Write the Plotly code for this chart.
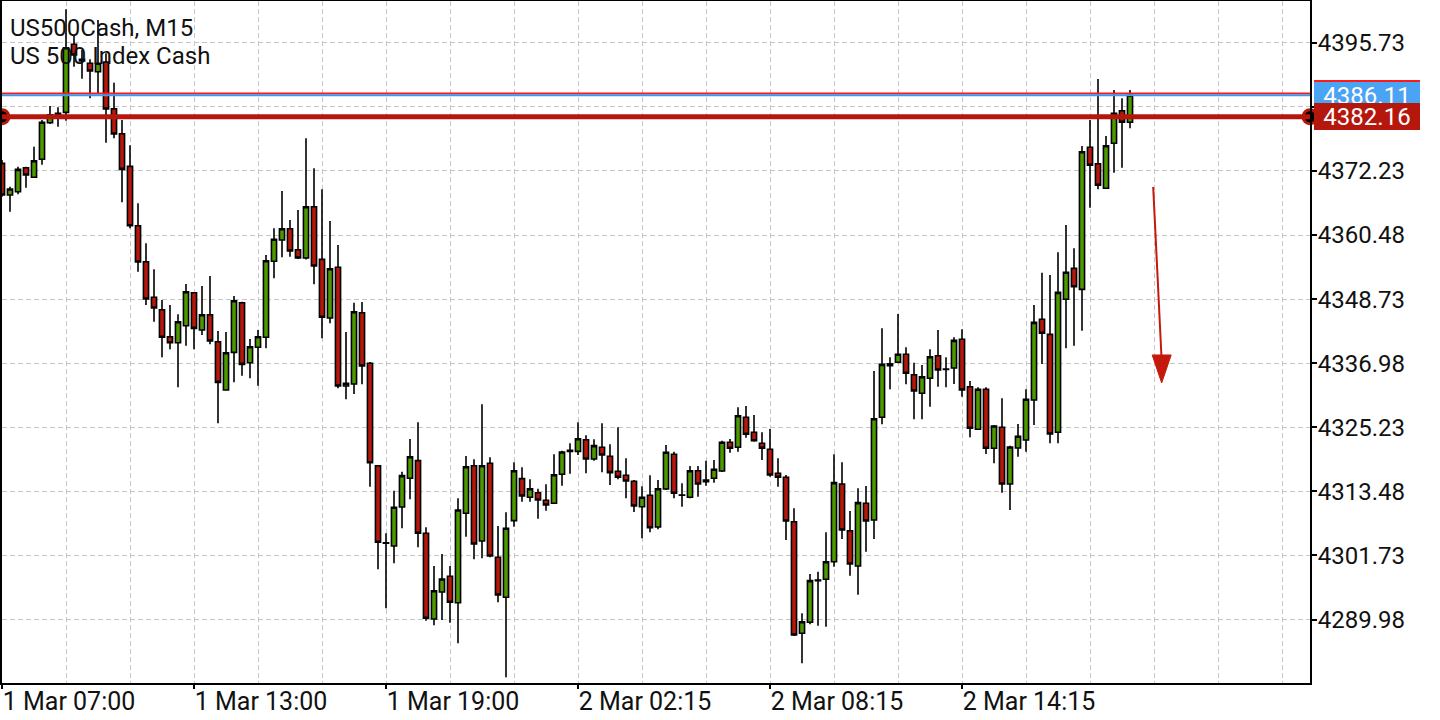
import plotly.graph_objects as go

# ---------------- data (M15 bars) ----------------
OPEN = [4373.62, 4367.81, 4368.42, 4372.82, 4371.06, 4374.36, 4381.07, 4382.17, 4382.97, 4395.44,
        4392.38, 4391.96, 4390.42, 4392.19, 4383.63, 4379.05, 4373.07, 4362.18, 4355.59, 4349.06,
        4346.79, 4341.84, 4340.74, 4343.85, 4349.90, 4343.06, 4345.87, 4340.92, 4332.07, 4338.97,
        4348.07, 4337.07, 4339.89, 4341.73, 4355.66, 4359.56, 4361.63, 4357.79, 4356.26, 4365.67,
        4356.02, 4345.26, 4354.56, 4332.80, 4333.17, 4346.24, 4336.96, 4318.19, 4303.96, 4303.47,
        4310.62, 4315.88, 4319.11, 4305.79, 4290.08, 4295.03, 4297.91, 4293.07, 4309.46, 4318.19,
        4304.38, 4318.63, 4301.40, 4294.06, 4308.11, 4315.81, 4312.39, 4313.24, 4311.84, 4311.29,
        4316.61, 4320.82, 4320.82, 4322.95, 4319.42, 4321.56, 4319.91, 4317.16, 4316.43, 4315.33,
        4310.67, 4312.76, 4306.95, 4313.92, 4320.28, 4312.76, 4312.39, 4317.27, 4315.57, 4315.88,
        4317.22, 4322.48, 4321.56, 4327.06, 4324.31, 4322.29, 4321.19, 4316.79, 4316.06, 4307.92,
        4287.46, 4289.48, 4297.11, 4297.36, 4300.59, 4314.83, 4306.27, 4299.80, 4311.29, 4308.23,
        4327.06, 4336.52, 4337.14, 4338.61, 4334.87, 4331.46, 4334.21, 4338.35, 4335.92, 4336.10,
        4341.36, 4332.67, 4324.86, 4332.19, 4321.38, 4325.23, 4314.83, 4321.43, 4322.90, 4330.23,
        4345.03, 4342.27, 4324.31, 4348.69, 4354.37, 4350.52, 4376.56, 4373.55, 4369.04, 4377.29,
        4383.27, 4381.14]
HIGH = [4374.23, 4369.34, 4373.00, 4373.00, 4376.67, 4381.56, 4384.13, 4383.89, 4401.85, 4397.14,
        4394.39, 4392.69, 4399.89, 4393.79, 4388.40, 4381.56, 4376.92, 4366.29, 4358.96, 4354.19,
        4348.56, 4347.65, 4345.94, 4351.50, 4350.03, 4351.13, 4352.96, 4342.88, 4342.70, 4349.30,
        4348.25, 4341.41, 4343.06, 4356.81, 4361.71, 4368.55, 4363.23, 4365.06, 4378.20, 4372.70,
        4368.86, 4363.05, 4358.65, 4342.70, 4348.07, 4348.20, 4337.20, 4318.32, 4305.79, 4313.60,
        4317.09, 4323.08, 4326.14, 4306.89, 4299.80, 4301.98, 4299.80, 4312.21, 4319.97, 4319.36,
        4329.44, 4319.73, 4307.13, 4309.65, 4318.81, 4317.89, 4315.69, 4313.97, 4314.78, 4320.28,
        4320.94, 4322.29, 4326.14, 4323.76, 4323.02, 4325.96, 4322.11, 4325.23, 4319.55, 4315.57,
        4314.41, 4316.43, 4315.57, 4321.98, 4320.76, 4314.96, 4318.13, 4318.13, 4319.11, 4319.23,
        4322.77, 4323.08, 4328.89, 4329.13, 4327.48, 4324.31, 4324.92, 4319.55, 4316.48, 4310.38,
        4291.13, 4298.33, 4298.76, 4305.98, 4320.28, 4318.81, 4309.88, 4314.04, 4314.47, 4335.55,
        4343.37, 4338.06, 4346.00, 4339.89, 4337.07, 4336.65, 4339.53, 4343.06, 4338.06, 4341.73,
        4343.19, 4333.71, 4332.56, 4332.56, 4325.65, 4330.54, 4321.86, 4325.83, 4332.19, 4347.65,
        4353.57, 4353.15, 4357.31, 4362.31, 4358.04, 4376.80, 4381.56, 4389.08, 4378.63, 4387.06,
        4385.54, 4387.06]
LOW = [4367.50, 4364.75, 4367.94, 4369.15, 4370.93, 4373.37, 4380.83, 4380.33, 4381.43, 4391.33,
       4389.13, 4385.54, 4386.45, 4377.40, 4378.20, 4366.47, 4361.71, 4353.75, 4347.65, 4344.59,
       4338.06, 4339.53, 4332.56, 4340.19, 4339.53, 4342.15, 4340.44, 4325.96, 4331.94, 4333.47,
       4334.69, 4334.21, 4332.85, 4339.71, 4352.54, 4356.39, 4356.50, 4356.08, 4356.00, 4351.44,
       4341.54, 4344.29, 4332.38, 4330.36, 4331.33, 4333.11, 4314.34, 4299.19, 4292.04, 4300.29,
       4306.71, 4312.03, 4303.23, 4289.77, 4288.93, 4289.90, 4289.41, 4285.63, 4305.17, 4301.03,
       4301.21, 4301.40, 4293.15, 4279.40, 4307.00, 4311.59, 4311.59, 4308.47, 4309.94, 4311.17,
       4314.52, 4316.72, 4320.15, 4316.79, 4319.11, 4316.98, 4314.65, 4315.69, 4312.21, 4309.70,
       4304.88, 4305.98, 4306.53, 4313.74, 4312.21, 4310.67, 4312.21, 4312.51, 4314.52, 4315.08,
       4317.03, 4320.57, 4320.76, 4323.32, 4322.59, 4319.23, 4316.17, 4314.34, 4304.57, 4286.97,
       4281.96, 4289.11, 4288.86, 4288.67, 4299.67, 4304.75, 4298.02, 4294.54, 4302.42, 4304.75,
       4325.78, 4332.19, 4336.96, 4333.11, 4326.69, 4326.69, 4329.01, 4332.67, 4332.56, 4333.17,
       4330.84, 4323.39, 4324.73, 4320.33, 4318.63, 4313.24, 4310.07, 4319.84, 4320.76, 4325.65,
       4336.83, 4322.29, 4322.29, 4339.71, 4340.19, 4342.94, 4365.49, 4368.86, 4368.91, 4371.90,
       4372.82, 4380.04]
CLOSE = [4367.81, 4368.91, 4372.52, 4371.48, 4374.10, 4381.14, 4382.53, 4382.79, 4394.82, 4393.48,
         4392.69, 4390.54, 4391.96, 4383.58, 4379.00, 4372.52, 4362.18, 4355.53, 4348.75, 4347.10,
         4341.73, 4340.74, 4344.59, 4350.09, 4343.37, 4345.87, 4341.05, 4333.47, 4338.90, 4348.44,
         4336.77, 4340.00, 4341.84, 4355.77, 4359.69, 4361.63, 4357.55, 4356.26, 4365.67, 4354.80,
         4345.39, 4354.30, 4332.80, 4333.29, 4346.42, 4336.47, 4318.74, 4304.14, 4304.07, 4310.56,
         4316.36, 4319.84, 4305.79, 4290.21, 4295.27, 4297.42, 4293.15, 4310.07, 4318.00, 4303.83,
         4318.19, 4301.64, 4294.48, 4306.71, 4317.27, 4312.63, 4313.97, 4311.90, 4310.98, 4316.54,
         4320.70, 4321.01, 4323.14, 4319.42, 4321.86, 4320.15, 4316.91, 4316.06, 4315.38, 4310.80,
         4312.39, 4306.82, 4313.97, 4320.64, 4313.13, 4312.82, 4317.27, 4314.83, 4315.26, 4317.53,
         4322.48, 4321.38, 4327.35, 4323.94, 4322.77, 4321.38, 4316.48, 4316.06, 4308.05, 4287.15,
         4289.59, 4297.11, 4297.24, 4300.59, 4315.08, 4306.40, 4300.17, 4311.41, 4308.05, 4326.80,
         4336.77, 4336.89, 4338.61, 4335.13, 4331.88, 4334.50, 4338.17, 4335.73, 4335.85, 4341.17,
         4332.07, 4325.05, 4332.19, 4321.38, 4325.47, 4314.83, 4321.62, 4323.58, 4330.36, 4344.47,
         4342.46, 4324.00, 4349.97, 4353.64, 4351.00, 4375.75, 4373.26, 4369.59, 4376.85, 4382.79,
         4381.14, 4386.11]
BAR_INDEX = list(range(len(OPEN)))

TICK_POS = [0, 24, 48, 72, 96, 120]
TICK_LABELS = ["1 Mar 07:00", "1 Mar 13:00", "1 Mar 19:00",
               "2 Mar 02:15", "2 Mar 08:15", "2 Mar 14:15"]
Y_TICKS = [4289.98, 4301.73, 4313.48, 4325.23, 4336.98,
           4348.73, 4360.48, 4372.23, 4383.98, 4395.73]
Y_TICK_TEXT = ["4289.98", "4301.73", "4313.48", "4325.23", "4336.98",
               "4348.73", "4360.48", "4372.23", "", "4395.73"]

SYMBOL = "US500Cash, M15"
DESCRIPTION = "US 500 Index Cash"
BID = 4386.11
ASK = 4386.41
LEVEL = 4382.16
ARROW_FROM = (143.9, 4369.28)
ARROW_TO = (144.96, 4333.35)

X_RANGE = [0, 163.5]
Y_RANGE = [4278.35, 4403.38]

# ---------------- styles ----------------
GREEN = "#4c9a00"
RED = "#b8180c"
LEVEL_RED = "#b5170c"
ASK_RED = "#ff1a1a"
BID_BLUE = "#3d9cf2"
BID_BOX = "#4ba3f3"
ARROW_RED = "#c41a0c"
GRID = "#c6c6c6"
FONT = "Roboto"

fig = go.Figure()
fig.add_trace(go.Candlestick(
    x=BAR_INDEX, open=OPEN, high=HIGH, low=LOW, close=CLOSE,
    increasing=dict(fillcolor=GREEN, line=dict(color="black", width=1.6)),
    decreasing=dict(fillcolor=RED, line=dict(color="black", width=1.6)),
    whiskerwidth=0, showlegend=False, hoverinfo="skip",
))

# price lines
fig.add_shape(type="line", xref="paper", x0=0, x1=1, yref="y", y0=ASK, y1=ASK,
              line=dict(color=ASK_RED, width=2), layer="above")
fig.add_shape(type="line", xref="paper", x0=0, x1=1, yref="y", y0=BID, y1=BID,
              line=dict(color=BID_BLUE, width=2), layer="above")
fig.add_shape(type="line", xref="paper", x0=0, x1=1, yref="y", y0=LEVEL, y1=LEVEL,
              line=dict(color=LEVEL_RED, width=5), layer="above")

# anchor dots on the level line
fig.add_trace(go.Scatter(
    x=X_RANGE, y=[LEVEL, LEVEL], mode="markers", cliponaxis=False,
    marker=dict(size=14, color="black", line=dict(color=LEVEL_RED, width=3)),
    showlegend=False, hoverinfo="skip",
))

# arrow drawing
fig.add_shape(type="line", xref="x", yref="y",
              x0=ARROW_FROM[0], y0=ARROW_FROM[1], x1=ARROW_TO[0], y1=ARROW_TO[1] + 4,
              line=dict(color=ARROW_RED, width=2), layer="above")
fig.add_shape(type="path", xref="x", yref="y",
              xsizemode="pixel", ysizemode="pixel",
              xanchor=ARROW_TO[0], yanchor=ARROW_TO[1],
              path="M-9.5,28 L9.5,28 L0,0 Z",
              fillcolor=ARROW_RED, line=dict(color=ARROW_RED, width=1), layer="above")

# title text
fig.add_annotation(xref="paper", yref="paper", x=0, y=0.961, xanchor="left", yanchor="middle",
                   xshift=6, text=SYMBOL, showarrow=False,
                   font=dict(family=FONT, size=24, color="#111111"))
fig.add_annotation(xref="paper", yref="paper", x=0, y=0.920, xanchor="left", yanchor="middle",
                   xshift=6, text=DESCRIPTION, showarrow=False,
                   font=dict(family=FONT, size=24, color="#111111"))

# price labels on the right axis
for price, bg in [(ASK, ASK_RED), (BID, BID_BOX), (LEVEL, LEVEL_RED)]:
    fig.add_annotation(xref="paper", yref="y", x=1, y=price, xanchor="left", yanchor="middle",
                       xshift=4, text=f"{price:.2f}", showarrow=False,
                       width=106, height=27, align="center", valign="middle",
                       bgcolor=bg, borderpad=0, borderwidth=0,
                       font=dict(family=FONT, size=24, color="white"))

fig.update_layout(
    width=1440, height=720,
    margin=dict(l=2, r=130, t=1, b=37),
    paper_bgcolor="white", plot_bgcolor="white",
    showlegend=False,
    boxgap=0.36, boxgroupgap=0,
    xaxis=dict(
        range=X_RANGE, rangeslider=dict(visible=False), automargin=False,
        tickmode="array", tickvals=TICK_POS, ticktext=TICK_LABELS,
        ticks="outside", ticklen=4, tickwidth=1.5, tickcolor="black",
        tickfont=dict(family=FONT, size=25, color="#111111"),
        ticklabelshift=67, ticklabelstandoff=-9,
        showline=True, linecolor="black", linewidth=2, mirror=True,
        showgrid=True, gridcolor=GRID, gridwidth=1, griddash="5px,3px",
        minor=dict(dtick=8, tick0=0, showgrid=True, gridcolor=GRID, gridwidth=1,
                   griddash="5px,3px", ticks=""),
        zeroline=False,
    ),
    yaxis=dict(
        range=Y_RANGE, side="right", automargin=False,
        tickmode="array", tickvals=Y_TICKS, ticktext=Y_TICK_TEXT,
        ticks="outside", ticklen=5, tickwidth=1.5, tickcolor="black",
        tickfont=dict(family=FONT, size=24, color="#111111"),
        ticklabelstandoff=-4,
        showline=True, linecolor="black", linewidth=2, mirror=True,
        showgrid=True, gridcolor=GRID, gridwidth=1, griddash="5px,3px",
        zeroline=False,
    ),
)

fig.write_html("out.html",
               config={"displayModeBar": False},
               post_script="document.body.style.margin='0px';document.body.style.overflow='hidden';")
